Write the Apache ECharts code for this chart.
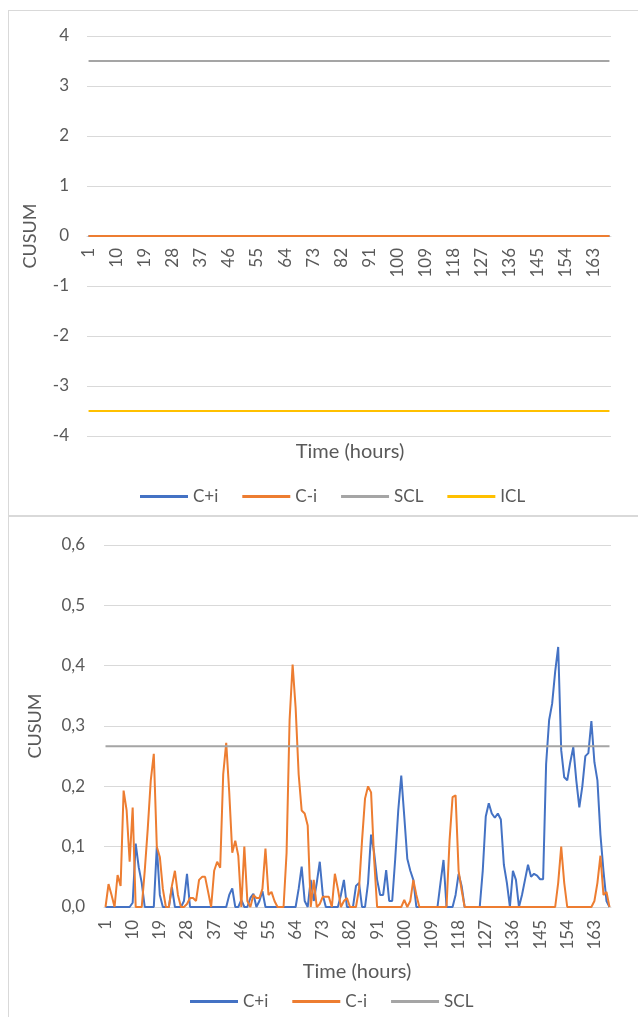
<!DOCTYPE html>
<html lang="en">
<head>
    <meta charset="UTF-8">
    <title>CUSUM</title>
    <script src="https://cdn.jsdelivr.net/npm/echarts/dist/echarts.min.js"></script>
    <style>
        body { margin: 0; background: #fff; overflow: hidden; width: 638px; height: 1017px; position: relative; }
        .panel { position: absolute; left: 8px; width: 700px; border: 1px solid #d9d9d9; }
        #p1 { top: 10px; height: 504px; }
        #p2 { top: 516px; height: 520px; }
        #top { position: absolute; left: 0; top: 0; width: 638px; height: 516px; }
        #bottom { position: absolute; left: 0; top: 516px; width: 638px; height: 501px; }
    </style>
</head>
<body>
<div class="panel" id="p1"></div>
<div class="panel" id="p2"></div>
<div id="top"></div>
<div id="bottom"></div>
<script>
    // hours 1..168
    const hours = Array.from({length: 168}, (_, i) => String(i + 1));

    // upper chart: both statistics stay at zero
    const topZero = 0;
    const topSCL = 3.5;
    const topICL = -3.5;

    // lower chart
    const cPlus = [
        0, 0, 0, 0, 0, 0, 0, 0, 0, 0.007,
        0.105, 0.066, 0.04, 0, 0, 0, 0, 0.1, 0.02, 0,
        0, 0, 0.033, 0, 0, 0, 0.01, 0.055, 0, 0,
        0, 0, 0, 0, 0, 0, 0, 0, 0, 0,
        0, 0.02, 0.031, 0, 0, 0.012, 0, 0, 0.015, 0.022,
        0, 0.01, 0.026, 0, 0, 0, 0, 0, 0, 0,
        0, 0, 0, 0, 0.03, 0.067, 0.01, 0, 0.045, 0.01,
        0.04, 0.075, 0.02, 0, 0, 0, 0, 0, 0.02, 0.045,
        0, 0, 0, 0.035, 0.04, 0, 0, 0.04, 0.12, 0.09,
        0.045, 0.02, 0.02, 0.061, 0.01, 0.01, 0.08, 0.16, 0.218, 0.15,
        0.08, 0.06, 0.045, 0, 0, 0, 0, 0, 0, 0,
        0, 0.04, 0.078, 0, 0, 0, 0.02, 0.055, 0.035, 0,
        0, 0, 0, 0, 0, 0.06, 0.15, 0.172, 0.155, 0.148,
        0.155, 0.145, 0.07, 0.04, 0, 0.06, 0.045, 0, 0.02, 0.045,
        0.07, 0.05, 0.055, 0.052, 0.046, 0.046, 0.237, 0.31, 0.337, 0.39,
        0.431, 0.26, 0.215, 0.21, 0.24, 0.265, 0.21, 0.165, 0.2, 0.25,
        0.255, 0.308, 0.24, 0.21, 0.12, 0.06, 0.01, 0
    ];
    const cMinus = [
        0, 0.038, 0.02, 0, 0.053, 0.035, 0.193, 0.16, 0.075, 0.165,
        0, 0, 0, 0.06, 0.13, 0.21, 0.254, 0.1, 0.083, 0.03,
        0, 0, 0.035, 0.06, 0.02, 0, 0, 0.005, 0.015, 0.015,
        0.01, 0.045, 0.05, 0.05, 0.025, 0, 0.06, 0.075, 0.065, 0.22,
        0.272, 0.19, 0.09, 0.11, 0.085, 0, 0.1, 0.01, 0, 0.02,
        0.015, 0.015, 0.03, 0.097, 0.02, 0.025, 0.01, 0, 0, 0,
        0.09, 0.31, 0.402, 0.33, 0.22, 0.16, 0.155, 0.135, 0, 0.045,
        0, 0.005, 0.017, 0.017, 0.017, 0, 0.055, 0.03, 0, 0.01,
        0.015, 0, 0, 0, 0.03, 0.11, 0.18, 0.2, 0.19, 0.08,
        0, 0, 0, 0, 0, 0, 0, 0, 0, 0.012,
        0, 0.01, 0.045, 0.02, 0, 0, 0, 0, 0, 0,
        0, 0, 0, 0, 0.11, 0.182, 0.185, 0.06, 0.028, 0,
        0, 0, 0, 0, 0, 0, 0, 0, 0, 0,
        0, 0, 0, 0, 0, 0, 0, 0, 0, 0,
        0, 0, 0, 0, 0, 0, 0, 0, 0, 0,
        0.04, 0.1, 0.04, 0, 0, 0, 0, 0, 0, 0,
        0, 0, 0.01, 0.04, 0.085, 0.02, 0.025, 0
    ];
    const bottomSCL = 0.2666;

    const BLUE = '#4472C4', ORANGE = '#ED7D31', GREY = '#A5A5A5', YELLOW = '#FFC000';
    const TXT = '#595959', GRID = '#d9d9d9';
    const FONT = 'Lato';

    function lineSeries(name, data, color) {
        return {
            name: name,
            type: 'line',
            data: data,
            showSymbol: false,
            symbol: 'none',
            itemStyle: {color: color},
            lineStyle: {color: color, width: 2},
            emphasis: {disabled: true}
        };
    }

    function constant(v) {
        return hours.map(() => v);
    }

    const xAxisBase = {
        type: 'category',
        data: hours,
        boundaryGap: true,
        axisTick: {show: false},
        axisLabel: {interval: 8, rotate: 90, color: TXT, fontSize: 17, fontFamily: FONT},
        splitLine: {show: false}
    };

    // ---- upper chart
    const chartTop = echarts.init(document.getElementById('top'));
    chartTop.setOption({
        animation: false,
        textStyle: {fontFamily: FONT},
        grid: {left: 87, top: 36, width: 524, height: 400},
        xAxis: Object.assign({}, xAxisBase, {
            // axis sits on the zero line, half way up the plot
            axisLine: {onZero: false, lineStyle: {color: GRID}},
            offset: -200,
            axisLabel: Object.assign({}, xAxisBase.axisLabel, {margin: 12})
        }),
        yAxis: {
            type: 'value', min: -4, max: 4, interval: 1,
            axisLine: {show: false}, axisTick: {show: false},
            axisLabel: {margin: 18, color: TXT, fontSize: 17, fontFamily: FONT},
            splitLine: {lineStyle: {color: GRID, width: 1}},
            name: 'CUSUM', nameLocation: 'middle', nameGap: 48,
            nameTextStyle: {color: TXT, fontSize: 18, fontFamily: FONT}
        },
        legend: {
            left: 135, top: 483, icon: 'rect', itemWidth: 48, itemHeight: 3, itemGap: 24,
            textStyle: {color: TXT, fontSize: 17, fontFamily: FONT},
            data: ['C+i', 'C-i', 'SCL', 'ICL']
        },
        graphic: [{
            type: 'text', x: 350, y: 452,
            style: {text: 'Time (hours)', align: 'center', verticalAlign: 'middle', fill: TXT, fontSize: 20, fontFamily: FONT}
        }],
        series: [
            lineSeries('C+i', constant(topZero), BLUE),
            lineSeries('C-i', constant(topZero), ORANGE),
            lineSeries('SCL', constant(topSCL), GREY),
            lineSeries('ICL', constant(topICL), YELLOW)
        ]
    });

    // ---- lower chart
    const chartBottom = echarts.init(document.getElementById('bottom'));
    chartBottom.setOption({
        animation: false,
        textStyle: {fontFamily: FONT},
        grid: {left: 104, top: 29, width: 507, height: 362},
        xAxis: Object.assign({}, xAxisBase, {
            axisLine: {lineStyle: {color: GRID}},
            axisLabel: Object.assign({}, xAxisBase.axisLabel, {margin: 13})
        }),
        yAxis: {
            type: 'value', min: 0, max: 0.6, interval: 0.1,
            axisLine: {show: false}, axisTick: {show: false},
            axisLabel: {
                margin: 19, color: TXT, fontSize: 17, fontFamily: FONT,
                formatter: v => v.toFixed(1).replace('.', ',')
            },
            splitLine: {lineStyle: {color: GRID, width: 1}},
            name: 'CUSUM', nameLocation: 'middle', nameGap: 60,
            nameTextStyle: {color: TXT, fontSize: 18, fontFamily: FONT}
        },
        legend: {
            left: 185, top: 472, icon: 'rect', itemWidth: 48, itemHeight: 3, itemGap: 24,
            textStyle: {color: TXT, fontSize: 17, fontFamily: FONT},
            data: ['C+i', 'C-i', 'SCL']
        },
        graphic: [{
            type: 'text', x: 357, y: 456,
            style: {text: 'Time (hours)', align: 'center', verticalAlign: 'middle', fill: TXT, fontSize: 20, fontFamily: FONT}
        }],
        series: [
            lineSeries('C+i', cPlus, BLUE),
            lineSeries('C-i', cMinus, ORANGE),
            lineSeries('SCL', constant(bottomSCL), GREY)
        ]
    });
</script>
</body>
</html>
